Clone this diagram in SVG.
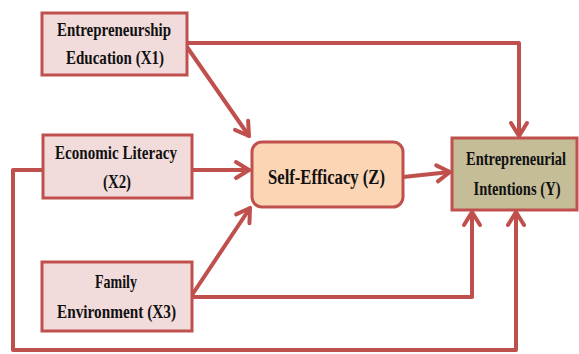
<svg xmlns="http://www.w3.org/2000/svg" width="579" height="354" viewBox="0 0 579 354">
<defs>
<style>
.box{stroke:#c0504d;stroke-width:3}
.x{fill:#f2dcdb}
.z{fill:#fcd5b5}
.y{fill:#c4bd97}
.lbl{font-family:"Liberation Serif","Times New Roman",serif;font-weight:bold;font-size:19px;fill:#111;text-anchor:middle}
.con{fill:none;stroke:#c0504d;stroke-width:4;stroke-linejoin:round;stroke-linecap:round}
</style>
<marker id="ah" markerUnits="userSpaceOnUse" viewBox="-16 -10 18 20" refX="0" refY="0" markerWidth="18" markerHeight="20" orient="auto" overflow="visible">
<path d="M-13,-8 L0,0 L-13,8" fill="none" stroke="#c0504d" stroke-width="4" stroke-linecap="round" stroke-linejoin="round"/>
</marker>
</defs>
<g id="connectors" class="con">
<path d="M187,43 H519 V136" marker-end="url(#ah)"/>
<path d="M187,47 L249,136" marker-end="url(#ah)"/>
<path d="M192,170 L249,170" marker-end="url(#ah)"/>
<path d="M192,295 L250,208" marker-end="url(#ah)"/>
<path d="M403,177 L450,172" marker-end="url(#ah)"/>
<path d="M192,297 H472 V212" marker-end="url(#ah)"/>
<path d="M43,170 H13 V350 H516 V212" marker-end="url(#ah)"/>
</g>
<g id="x1">
<rect class="box x" x="42" y="13" width="145" height="62"/>
<text class="lbl" x="114" y="36" textLength="114" lengthAdjust="spacingAndGlyphs">Entrepreneurship</text>
<text class="lbl" x="115" y="64" textLength="98" lengthAdjust="spacingAndGlyphs">Education  (X1)</text>
</g>
<g id="x2">
<rect class="box x" x="43" y="135" width="149" height="63"/>
<text class="lbl" x="116" y="159" textLength="122" lengthAdjust="spacingAndGlyphs">Economic  Literacy</text>
<text class="lbl" x="117" y="188" textLength="28" lengthAdjust="spacingAndGlyphs">(X2)</text>
</g>
<g id="x3">
<rect class="box x" x="42" y="262" width="150" height="69"/>
<text class="lbl" x="116" y="288" textLength="42" lengthAdjust="spacingAndGlyphs">Family</text>
<text class="lbl" x="116.5" y="318" textLength="119" lengthAdjust="spacingAndGlyphs">Environment  (X3)</text>
</g>
<g id="z">
<rect class="box z" x="252" y="142" width="151" height="65" rx="10" ry="10"/>
<text class="lbl" x="326.5" y="184" textLength="117" lengthAdjust="spacingAndGlyphs" style="font-size:20px">Self-Efficacy (Z)</text>
</g>
<g id="y">
<rect class="box y" x="452" y="138" width="125" height="72"/>
<text class="lbl" x="516" y="165" textLength="100" lengthAdjust="spacingAndGlyphs">Entrepreneurial</text>
<text class="lbl" x="517" y="195" textLength="87" lengthAdjust="spacingAndGlyphs">Intentions  (Y)</text>
</g>
</svg>
